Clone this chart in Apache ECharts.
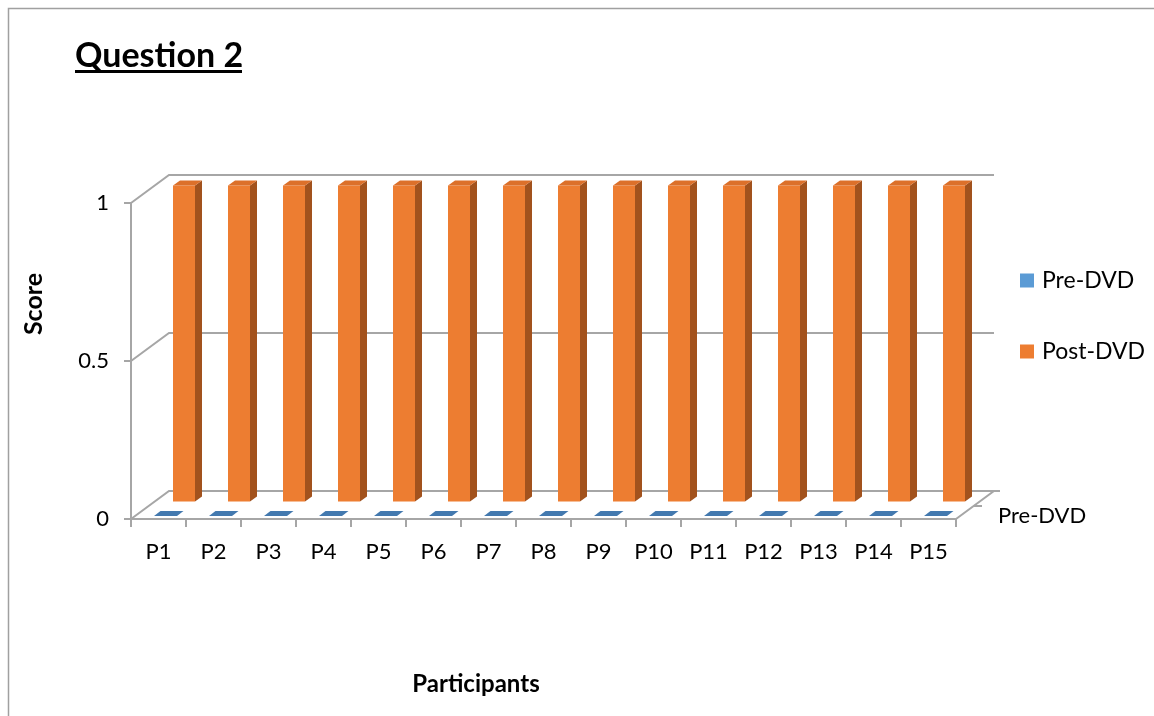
<!DOCTYPE html>
<html>
<head>
<meta charset="utf-8">
<title>Question 2</title>
<script src="https://cdn.jsdelivr.net/npm/echarts@6/dist/echarts.min.js"></script>
<style>
  html, body { margin: 0; padding: 0; background: #ffffff; }
  #chart { width: 1154px; height: 716px; }
</style>
</head>
<body>
<div id="chart"></div>
<script>
// Scores per participant, before and after the DVD
const categories = ['P1', 'P2', 'P3', 'P4', 'P5', 'P6', 'P7', 'P8', 'P9', 'P10', 'P11', 'P12', 'P13', 'P14', 'P15'];
const preDVD = [0, 0, 0, 0, 0, 0, 0, 0, 0, 0, 0, 0, 0, 0, 0];
const postDVD = [1, 1, 1, 1, 1, 1, 1, 1, 1, 1, 1, 1, 1, 1, 1];
const yTicks = [0, 0.5, 1];
const depthLabel = 'Pre-DVD';

const FONT = 'Lato, "Open Sans", "Liberation Sans", sans-serif';
const LINE = '#A6A6A6';
// offset of the back wall relative to the front plane
const WALL_DX = 38, WALL_DY = -28;

// draws a box-shaped bar: front face, right side face and top face
function boxRenderer(opt) {
  return function (params, api) {
    const i = api.value(0);
    const v = api.value(1);
    const top = api.coord([i, v]);
    const base = api.coord([i, 0]);
    const xL = top[0] + opt.x0, xR = top[0] + opt.x1;
    const yB = base[1] + opt.dy, yT = top[1] + opt.dy;
    const dx = opt.depthX, dy = opt.depthY;
    const children = [];
    if (yB - yT > 0.5) {
      children.push({
        type: 'polygon',
        shape: { points: [[xR, yB], [xR + dx, yB + dy], [xR + dx, yT + dy], [xR, yT]] },
        style: { fill: opt.side }
      });
      children.push({
        type: 'rect',
        shape: { x: xL, y: yT, width: xR - xL, height: yB - yT },
        style: { fill: opt.front }
      });
    }
    children.push({
      type: 'polygon',
      shape: { points: [[xL, yT], [xR, yT], [xR + dx, yT + dy], [xL + dx, yT + dy]] },
      style: { fill: opt.top }
    });
    return { type: 'group', children: children };
  };
}

// side wall, back wall gridlines and the floor edge
function wallRenderer(params, api) {
  const cs = params.coordSys;
  const v = api.value(1);
  const y = api.coord([0, v])[1];
  const L = cs.x, R = cs.x + cs.width;
  const children = [{
    type: 'polyline',
    shape: { points: [[L, y], [L + WALL_DX, y + WALL_DY], [R + WALL_DX, y + WALL_DY]] },
    style: { stroke: LINE, lineWidth: 2, fill: null }
  }];
  if (v === 0) {
    children.push({
      type: 'polyline',
      shape: { points: [[R, y], [R + WALL_DX, y + WALL_DY], [R + WALL_DX + 6, y + WALL_DY]] },
      style: { stroke: LINE, lineWidth: 2, fill: null }
    });
    // depth axis tick and label for the front row
    children.push({
      type: 'line',
      shape: { x1: R + 18, y1: y - 13, x2: R + 26, y2: y - 13 },
      style: { stroke: LINE, lineWidth: 2 }
    });
    children.push({
      type: 'text',
      style: {
        x: R + 42, y: y - 3, text: depthLabel,
        font: '22px ' + FONT, fill: '#000', textAlign: 'left', textVerticalAlign: 'middle'
      }
    });
  }
  return { type: 'group', children: children };
}

const chart = echarts.init(document.getElementById('chart'), null, { renderer: 'canvas' });

chart.setOption({
  animation: false,
  backgroundColor: '#ffffff',
  grid: { left: 131, right: 198, top: 203, bottom: 197, containLabel: false },
  legend: {
    orient: 'vertical',
    left: 1020,
    top: 269,
    padding: 0,
    itemWidth: 14,
    itemHeight: 14,
    itemGap: 48,
    icon: 'rect',
    data: ['Pre-DVD', 'Post-DVD'],
    textStyle: { fontFamily: FONT, fontSize: 23, color: '#000', padding: [0, 0, 0, 3] }
  },
  xAxis: {
    type: 'category',
    data: categories,
    axisLine: { show: true, lineStyle: { color: LINE, width: 2 } },
    axisTick: { show: true, length: 8, lineStyle: { color: LINE, width: 2 } },
    axisLabel: { fontFamily: FONT, fontSize: 22, color: '#000', margin: 22 },
    splitLine: { show: false }
  },
  yAxis: {
    type: 'value',
    min: 0,
    max: 1,
    interval: 0.5,
    axisLine: { show: true, lineStyle: { color: LINE, width: 2 } },
    axisTick: { show: true, length: 7, lineStyle: { color: LINE, width: 2 } },
    axisLabel: { fontFamily: FONT, fontSize: 22, color: '#000', margin: 22 },
    splitLine: { show: false }
  },
  graphic: [
    {
      type: 'rect', silent: true, z: -10,
      shape: { x: 8.5, y: 8.5, width: 1300, height: 900 },
      style: { fill: null, stroke: '#A0A0A0', lineWidth: 1.5 }
    },
    {
      type: 'text', x: 75, y: 56,
      style: { text: 'Question 2', font: 'bold 34px ' + FONT, fill: '#000', textAlign: 'left', textVerticalAlign: 'middle' }
    },
    {
      type: 'rect', x: 75, y: 70,
      shape: { width: 167, height: 3 },
      style: { fill: '#000' }
    },
    {
      type: 'text', x: 34, y: 304, rotation: Math.PI / 2,
      style: { text: 'Score', font: 'bold 25px ' + FONT, fill: '#000', textAlign: 'center', textVerticalAlign: 'middle' }
    },
    {
      type: 'text', x: 476, y: 684,
      style: { text: 'Participants', font: 'bold 24px ' + FONT, fill: '#000', textAlign: 'center', textVerticalAlign: 'middle' }
    }
  ],
  series: [
    {
      name: 'walls',
      type: 'custom',
      z: 1,
      silent: true,
      renderItem: wallRenderer,
      encode: { x: 0, y: 1 },
      data: yTicks.map(function (v) { return [0, v]; })
    },
    {
      name: 'Post-DVD',
      type: 'custom',
      z: 2,
      itemStyle: { color: '#ED7D31' },
      renderItem: boxRenderer({
        x0: 14.5, x1: 36.5, dy: -17.5, depthX: 7, depthY: -5,
        front: '#ED7D31', side: '#A2521D', top: '#DC702A'
      }),
      encode: { x: 0, y: 1 },
      data: postDVD.map(function (v, i) { return [i, v]; })
    },
    {
      name: 'Pre-DVD',
      type: 'custom',
      z: 3,
      itemStyle: { color: '#5B9BD5' },
      renderItem: boxRenderer({
        x0: -4.5, x1: 18.5, dy: -3, depthX: 6.5, depthY: -5,
        front: '#5B9BD5', side: '#3A6C9A', top: '#4379AF'
      }),
      encode: { x: 0, y: 1 },
      data: preDVD.map(function (v, i) { return [i, v]; })
    }
  ]
});
</script>
</body>
</html>
